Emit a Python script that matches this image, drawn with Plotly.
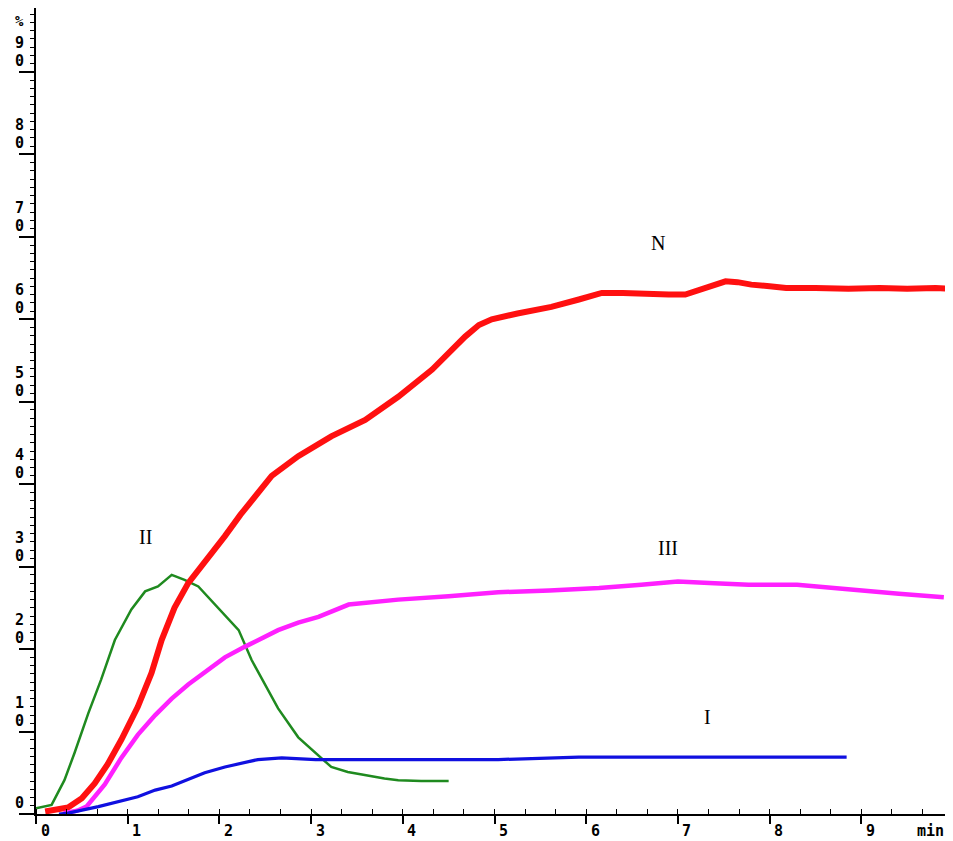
import plotly.graph_objects as go

# ---- data (minutes, %) ----
n_t = [0.10, 0.20, 0.35, 0.50, 0.64, 0.78, 0.93, 1.11, 1.26, 1.37, 1.51, 1.66, 1.84, 2.06, 2.23, 2.40, 2.57, 2.86, 3.22, 3.59, 3.95, 4.32, 4.50, 4.68, 4.83, 4.97, 5.25, 5.62, 5.92, 6.17, 6.40, 6.68, 6.90, 7.08, 7.26, 7.40, 7.52, 7.65, 7.80, 8.00, 8.18, 8.50, 8.86, 9.20, 9.50, 9.81, 9.96]
n_v = [0.3, 0.5, 0.8, 1.9, 3.7, 6.0, 9.0, 13.0, 17.1, 21.1, 25.0, 28.0, 30.5, 33.7, 36.3, 38.6, 41.0, 43.4, 45.8, 47.8, 50.6, 53.9, 55.9, 57.9, 59.3, 60.0, 60.7, 61.5, 62.4, 63.2, 63.2, 63.0, 63.0, 63.0, 63.6, 64.2, 64.6, 64.5, 64.2, 64.0, 63.8, 63.8, 63.7, 63.8, 63.7, 63.8, 63.7]

iii_t = [0.30, 0.45, 0.55, 0.75, 0.93, 1.11, 1.30, 1.48, 1.66, 1.84, 2.06, 2.28, 2.64, 2.86, 3.08, 3.41, 3.95, 4.50, 5.04, 5.60, 6.14, 6.60, 7.00, 7.40, 7.77, 8.30, 8.86, 9.41, 9.90]
iii_v = [0.1, 0.4, 0.9, 3.6, 6.8, 9.6, 12.0, 14.0, 15.7, 17.2, 19.0, 20.3, 22.3, 23.2, 23.9, 25.4, 26.0, 26.4, 26.9, 27.1, 27.4, 27.8, 28.2, 28.0, 27.8, 27.8, 27.2, 26.7, 26.3]

ii_t = [0.00, 0.17, 0.31, 0.42, 0.57, 0.71, 0.86, 1.04, 1.19, 1.33, 1.48, 1.62, 1.77, 1.95, 2.21, 2.35, 2.50, 2.64, 2.86, 3.05, 3.22, 3.40, 3.59, 3.80, 3.95, 4.20, 4.50]
ii_v = [0.7, 1.1, 4.1, 7.4, 12.2, 16.3, 21.1, 24.8, 27.0, 27.6, 29.0, 28.4, 27.6, 25.4, 22.3, 18.7, 15.6, 12.8, 9.3, 7.4, 5.7, 5.1, 4.7, 4.3, 4.1, 4.0, 4.0]

i_t = [0.25, 0.35, 0.68, 0.90, 1.11, 1.30, 1.48, 1.84, 2.06, 2.42, 2.68, 3.05, 4.00, 4.83, 5.04, 5.92, 6.80, 7.85, 8.84]
i_v = [0.0, 0.1, 0.9, 1.5, 2.1, 2.9, 3.4, 5.0, 5.7, 6.6, 6.8, 6.6, 6.6, 6.6, 6.6, 6.9, 6.9, 6.9, 6.9]

x_ticks = [0, 1, 2, 3, 4, 5, 6, 7, 8, 9]
x_labels = [str(v) for v in x_ticks]
x_unit = "min"
y_ticks = [0, 10, 20, 30, 40, 50, 60, 70, 80, 90]
y_labels = [str(v) for v in y_ticks]   # printed one digit above the other
y_unit = "%"

curve_names = ["N", "III", "II", "I"]
curve_label_pos = [(6.78, 69.3), (6.89, 32.3), (1.19, 33.6), (7.32, 11.8)]

fig = go.Figure()
fig.add_trace(go.Scatter(x=ii_t, y=ii_v, mode="lines", line=dict(color="#1f8a1f", width=2.5), name="II"))
fig.add_trace(go.Scatter(x=n_t, y=n_v, mode="lines", line=dict(color="#ff1010", width=6), name="N"))
fig.add_trace(go.Scatter(x=iii_t, y=iii_v, mode="lines", line=dict(color="#ff20ff", width=4.5), name="III"))
fig.add_trace(go.Scatter(x=i_t, y=i_v, mode="lines", line=dict(color="#1010e0", width=3.2), name="I"))

mono = dict(family="DejaVu Sans Mono", size=15, color="black")
annotations = []
for v, lab in zip(y_ticks, y_labels):
    digits = list(lab)
    # last digit sits just above the tick, earlier digits stacked above it
    for k, ch in enumerate(reversed(digits)):
        annotations.append(dict(xref="paper", x=0, yref="y", y=v, text=f"<b>{ch}</b>", showarrow=False,
                                xanchor="center", yanchor="middle", xshift=-17, yshift=11 + 18 * k,
                                font=mono))
annotations.append(dict(xref="paper", x=0, yref="y", y=96.2, text=f"<b>{y_unit}</b>", showarrow=False,
                        xanchor="center", yanchor="middle", xshift=-17,
                        font=dict(family="DejaVu Sans Mono", size=14, color="black")))
for v, lab in zip(x_ticks, x_labels):
    annotations.append(dict(xref="x", x=v, yref="paper", y=0, text=f"<b>{lab}</b>", showarrow=False,
                            xanchor="center", yanchor="middle", xshift=9, yshift=-17, font=mono))
annotations.append(dict(xref="x", x=9.75, yref="paper", y=0, text=f"<b>{x_unit}</b>", showarrow=False,
                        xanchor="center", yanchor="middle", yshift=-17, font=mono))
for name, (px, py) in zip(curve_names, curve_label_pos):
    annotations.append(dict(xref="x", x=px, yref="y", y=py, text=name, showarrow=False,
                            font=dict(family="Liberation Serif", size=20, color="black")))

# page body adds an 8px margin, so the figure is sized to fit the 953x841 window
fig.update_layout(
    width=945, height=833,
    margin=dict(l=28, r=0, t=0, b=27, pad=0),
    paper_bgcolor="white", plot_bgcolor="white",
    showlegend=False,
    annotations=annotations,
    xaxis=dict(range=[0, 10], automargin=False, showgrid=False, zeroline=False, showline=True,
               linecolor="black", linewidth=2,
               tickvals=x_ticks, showticklabels=False, ticks="outside", ticklen=8,
               tickwidth=1.5, tickcolor="black",
               minor=dict(dtick=1 / 3, tick0=0, ticks="inside", ticklen=5, tickwidth=1.2, tickcolor="black")),
    yaxis=dict(range=[0, 97.75], automargin=False, showgrid=False, zeroline=False, showline=True,
               linecolor="black", linewidth=2,
               tickvals=y_ticks, showticklabels=False, ticks="outside", ticklen=15, tickwidth=1.5,
               tickcolor="black",
               minor=dict(dtick=1, tick0=0, ticks="outside", ticklen=4, tickwidth=1.2, tickcolor="black")),
)

fig.write_html("out.html")
